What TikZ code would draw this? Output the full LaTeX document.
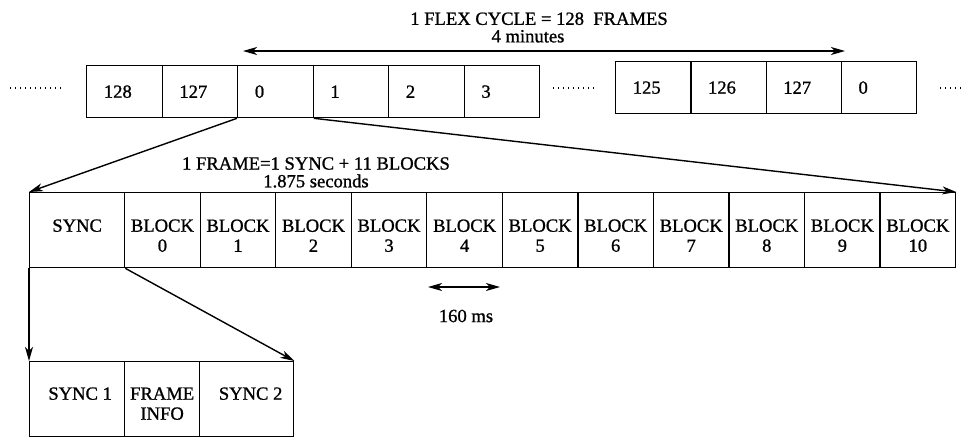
\documentclass[tikz,border=0pt]{standalone}
\usepackage{fontspec}
\setmainfont{Liberation Serif}[FakeBold=1.0]
\usetikzlibrary{arrows.meta}
\begin{document}
\begin{tikzpicture}[x=1pt,y=-1pt,line width=1.3pt,
  font=\fontsize{18.6}{20}\selectfont,
  fbox/.style={draw, rectangle, inner sep=0pt, anchor=north west,
    minimum height=52pt, minimum width=#1, text width=41pt, align=left},
  cell/.style={draw, rectangle, inner sep=0pt, anchor=north west,
    minimum height=75pt, minimum width=#1},
  txt/.style={align=center, inner sep=0pt},
  arr/.style={line width=1.4pt, -{Stealth[length=14pt,width=8pt,inset=4pt]}},
  arrs/.style={line width=1.4pt, {Stealth[length=14pt,width=8pt,inset=4pt]}-{Stealth[length=14pt,width=8pt,inset=4pt]}},
  dots/.style={line width=1.3pt, dash pattern=on 1pt off 4pt},
]
\useasboundingbox (0,0) rectangle (962,437);

% title
\node[txt, font=\fontsize{18.6}{17.5}\selectfont] (title) at (539,27.5)
  {1 FLEX CYCLE = 128\ \ FRAMES\\\hspace*{-22pt}4 minutes};
\coordinate (cl) at (243,51);
\coordinate (cr) at (845,51);
\draw[arrs] (cl) -- (cr);

% top row, left group
\node[fbox=75.5pt] (t128) at (86,65) {128};
\node[fbox=75.5pt] (t127) at (161.5,65) {127};
\node[fbox=75.5pt] (t0) at (237,65) {0};
\node[fbox=75.5pt] (t1) at (312.5,65) {1};
\node[fbox=75.5pt] (t2) at (388,65) {2};
\node[fbox=75.5pt] (t3) at (463.5,65) {3};
% top row, right group
\node[fbox=75.25pt] (u125) at (615,61) {125};
\node[fbox=75.25pt] (u126) at (690.25,61) {126};
\node[fbox=75.25pt] (u127) at (765.5,61) {127};
\node[fbox=75.25pt] (u0) at (840.75,61) {0};

% dotted leaders
\draw[dots] (10,88) -- (64,88);
\draw[dots] (553,88) -- (594,88);
\draw[dots] (940,88) -- (962,88);

% frame title
\node[txt] (ftitle1) at (316,163.5) {1 FRAME=1 SYNC + 11 BLOCKS};
\node[txt] (ftitle2) at (316,181) {1.875 seconds};

% frame row
\node[cell=95pt, label={[yshift=4.5pt]center:SYNC}] (sync) at (29,192) {};
\foreach \i in {0,...,10} {
  \node[cell=75.545pt, label={[txt,yshift=-5.5pt]center:BLOCK\\\i}] (b\i) at ({124+75.545*\i},192) {};
}

% 160 ms
\coordinate (ml) at (428,287);
\coordinate (mr) at (500,287);
\draw[arrs] (ml) -- (mr);
\node[txt] (ms) at (466,316) {160 ms};

% sync breakdown
\node[cell=95pt, label={[xshift=3pt,yshift=5.5pt]center:SYNC 1}] (s1) at (29,361) {};
\node[cell=75pt, label={[txt,yshift=-4.5pt]center:FRAME\\INFO}] (fi) at (124,361) {};
\node[cell=94pt, label={[xshift=4pt,yshift=5.5pt]center:SYNC 2}] (s2) at (199,361) {};

% expansion arrows
\draw[arr] (t0.south west) -- (sync.north west);
\draw[arr] (t0.south east) -- (b10.north east);
\draw[arr] (sync.south west) -- (s1.north west);
\draw[arr] (sync.south east) -- (s2.north east);
\end{tikzpicture}
\end{document}
